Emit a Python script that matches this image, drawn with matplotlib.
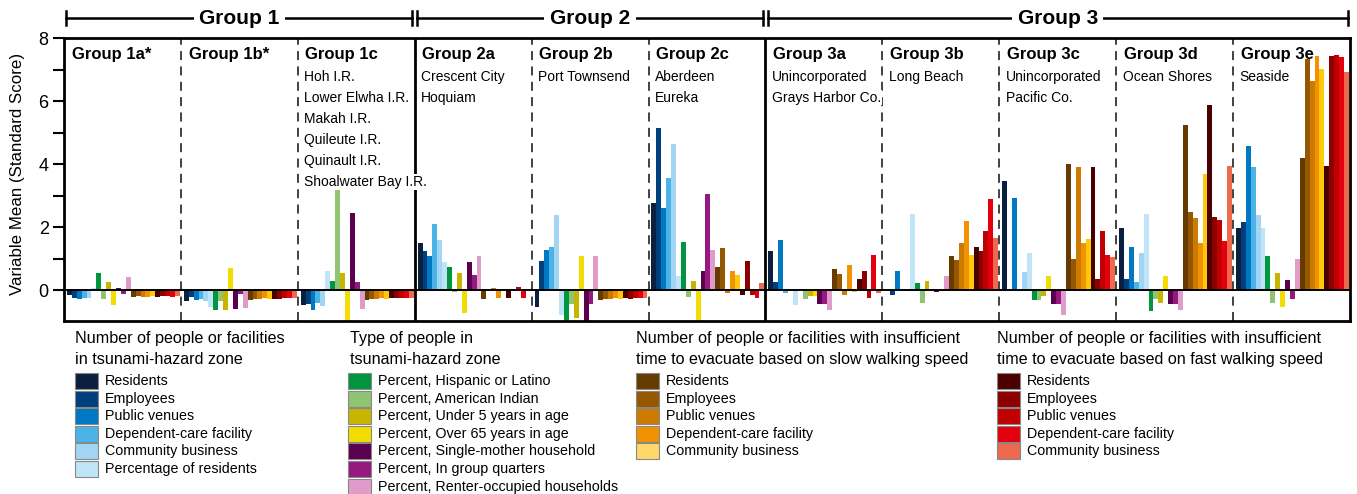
import matplotlib
matplotlib.use("Agg")
import matplotlib.pyplot as plt
from matplotlib.patches import Rectangle
import matplotlib.transforms as mtransforms

plt.rcParams['font.family'] = ['Liberation Sans', 'DejaVu Sans']

# values per panel, 23 variables each (6 hazard-zone counts, 7 population types,
# 5 slow-walk counts, 5 fast-walk counts)
group_1a = [-0.14, -0.24, -0.27, -0.24, -0.24, 0.06, 0.54, -0.27, 0.25, -0.48, 0.07, -0.12, 0.41,
            -0.21, -0.18, -0.21, -0.21, -0.18, -0.21, -0.18, -0.18, -0.21, -0.18]
group_1b = [-0.34, -0.21, -0.31, -0.28, -0.34, -0.53, -0.62, -0.34, -0.62, 0.70, -0.59, -0.12, -0.56,
            -0.31, -0.28, -0.28, -0.24, -0.28, -0.28, -0.28, -0.24, -0.24, -0.24]
group_1c = [-0.47, -0.43, -0.62, -0.40, -0.50, 0.61, 0.30, 3.21, 0.54, -0.97, 2.46, 0.26, -0.59,
            -0.31, -0.28, -0.28, -0.24, -0.28, -0.24, -0.24, -0.24, -0.24, -0.24]
group_2a = [1.50, 1.25, 1.09, 2.11, 1.60, 0.90, 0.74, -0.05, 0.55, -0.72, 0.90, 0.49, 1.09,
            -0.28, 0.0, 0.07, -0.24, 0.0, -0.24, 0.0, 0.10, -0.24, 0.0]
group_2b = [-0.53, 0.92, 1.27, 1.37, 2.38, -0.79, -0.97, -0.43, -0.88, 1.08, -0.97, -0.43, 1.08,
            -0.31, -0.28, -0.28, -0.24, -0.28, -0.24, -0.28, -0.24, -0.24, -0.24]
group_2c = [2.76, 5.14, 2.60, 3.56, 4.63, 0.44, 1.52, -0.21, 0.29, -0.97, 0.60, 3.05, 1.27,
            0.73, 1.33, -0.08, 0.60, 0.48, -0.15, 0.92, -0.15, -0.24, 0.22]
group_3a = [1.24, 0.25, 1.59, -0.08, 0.04, -0.47, 0.04, -0.28, -0.18, -0.18, -0.43, -0.43, -0.62,
            0.67, 0.51, -0.15, 0.79, -0.05, 0.35, 0.60, -0.24, 1.11, -0.08]
group_3b = [0.04, -0.15, 0.60, 0.04, 0.04, 2.42, 0.22, -0.40, 0.29, 0.04, -0.05, 0.04, 0.44,
            1.08, 0.95, 1.49, 2.19, 1.11, 1.37, 1.24, 1.87, 2.89, 1.65]
group_3c = [3.46, 0.0, 2.92, 0.0, 0.57, 1.17, -0.31, -0.31, -0.18, 0.44, -0.43, -0.43, -0.78,
            4.00, 0.98, 3.92, 1.49, 1.62, 3.92, 0.35, 1.87, 1.11, 1.05]
group_3d = [1.97, 0.35, 1.37, 0.25, 1.17, 2.42, -0.66, -0.28, -0.40, 0.44, -0.43, -0.43, -0.62,
            5.24, 2.48, 2.29, 1.49, 3.68, 5.87, 2.32, 2.22, 1.56, 3.94]
group_3e = [1.97, 2.16, 4.57, 3.92, 2.38, 1.97, 1.08, -0.40, 0.54, -0.53, 0.32, -0.28, 0.98,
            4.19, 7.33, 6.63, 7.43, 7.02, 3.94, 7.43, 7.46, 7.40, 6.92]

panels = [group_1a, group_1b, group_1c, group_2a, group_2b, group_2c,
          group_3a, group_3b, group_3c, group_3d, group_3e]
panel_names = ["Group 1a*", "Group 1b*", "Group 1c", "Group 2a", "Group 2b", "Group 2c",
               "Group 3a", "Group 3b", "Group 3c", "Group 3d", "Group 3e"]
panel_places = [[], [],
                ["Hoh I.R.", "Lower Elwha I.R.", "Makah I.R.", "Quileute I.R.", "Quinault I.R.",
                 "Shoalwater Bay I.R."],
                ["Crescent City", "Hoquiam"], ["Port Townsend"], ["Aberdeen", "Eureka"],
                ["Unincorporated", "Grays Harbor Co."], ["Long Beach"],
                ["Unincorporated", "Pacific Co."], ["Ocean Shores"], ["Seaside"]]
top_groups = ["Group 1", "Group 2", "Group 3"]
top_spans = [(0, 3), (3, 6), (6, 11)]

hazard_labels = ["Residents", "Employees", "Public venues", "Dependent-care facility",
                 "Community business", "Percentage of residents"]
type_labels = ["Percent, Hispanic or Latino", "Percent, American Indian",
               "Percent, Under 5 years in age", "Percent, Over 65 years in age",
               "Percent, Single-mother household", "Percent, In group quarters",
               "Percent, Renter-occupied households"]
walk_labels = ["Residents", "Employees", "Public venues", "Dependent-care facility",
               "Community business"]

hazard_colors = ['#0b1f3f', '#003f7d', '#0079c2', '#4cb3e8', '#a1d5f3', '#bfe3f7']
type_colors = ['#00953f', '#90c473', '#c7b500', '#f3dc00', '#5b0050', '#96197f', '#df9cc8']
slow_colors = ['#673a00', '#955800', '#cd7a00', '#f39200', '#ffc80a']
fast_colors = ['#4b0000', '#8c0000', '#c00000', '#e3000f', '#ee6a4e']
colors = hazard_colors + type_colors + slow_colors + fast_colors

W, H = 1357, 494
fig = plt.figure(figsize=(W / 100, H / 100), dpi=100)
ax = fig.add_axes([64 / W, 1 - 321 / H, (1350 - 64) / W, (321 - 38) / H])

bw = 0.042
pad = 0.025
for g, vals in enumerate(panels):
    xs = [g + pad + (i + 0.5) * bw for i in range(len(vals))]
    ax.bar(xs, vals, width=bw, color=colors, linewidth=0, zorder=2)

ax.set_xlim(0, 11)
ax.set_ylim(-0.98, 8)
ax.axhline(0, color='black', lw=1.4, zorder=3)
for b in range(1, 11):
    if b in (3, 6):
        ax.axvline(b, color='black', lw=2, zorder=1)
    else:
        ax.axvline(b, color='#333333', lw=1.3, ls=(0, (5, 3.5)), zorder=1)

ax.set_xticks([])
ax.set_yticks([0, 2, 4, 6, 8])
ax.set_yticks([1, 3, 5, 7], minor=True)
ax.tick_params(axis='y', which='both', direction='out', length=8, width=1.5, labelsize=13, pad=3)
for s in ax.spines.values():
    s.set_linewidth(2)

# panel titles and place names
for g in range(11):
    ax.text(g + 0.065, 7.47, panel_names[g], fontsize=12, fontweight='bold', va='center', ha='left')
    for k, place in enumerate(panel_places[g]):
        ax.text(g + 0.055, 6.77 - k * 0.667, place, fontsize=10, va='center',
                ha='left', zorder=4,
                bbox=dict(facecolor='white', edgecolor='none', pad=0.5))

# top brackets
trans = mtransforms.blended_transform_factory(ax.transData, ax.transAxes)
yb = (321 - 18) / (321 - 38)
tk = 7 / (321 - 38)
for name, (a, b) in zip(top_groups, top_spans):
    x0, x1 = a + 0.02, b - 0.02
    ax.plot([x0, x1], [yb, yb], color='black', lw=1.8, transform=trans, clip_on=False)
    ax.plot([x0, x0], [yb - tk, yb + tk], color='black', lw=1.8, transform=trans, clip_on=False)
    ax.plot([x1, x1], [yb - tk, yb + tk], color='black', lw=1.8, transform=trans, clip_on=False)
    ax.text((a + b) / 2, yb, name, transform=trans, ha='center', va='center', fontsize=15,
            fontweight='bold', bbox=dict(facecolor='white', edgecolor='none', pad=4))

fig.text(18 / W, 1 - 174 / H, "Variable Mean (Standard Score)", rotation=90, ha='center',
         va='center', fontsize=12.2)

# legend blocks
def legend_block(x, title_lines, labels, cols, patch_x=None):
    px = x if patch_x is None else patch_x
    for j, line in enumerate(title_lines):
        fig.text(x / W, 1 - (338 + j * 21) / H, line, fontsize=11.6, ha='left', va='center')
    for k, (lab, c) in enumerate(zip(labels, cols)):
        yc = 381 + k * 17.6
        fig.patches.append(Rectangle((px / W, 1 - (yc + 8) / H), 23 / W, 16 / H, facecolor=c,
                                     edgecolor='#888888', lw=0.8, transform=fig.transFigure))
        fig.text((px + 30) / W, 1 - yc / H, lab, fontsize=10.3, ha='left', va='center')

legend_block(75, ["Number of people or facilities", "in tsunami-hazard zone"],
             hazard_labels, hazard_colors)
legend_block(350, ["Type of people in", "tsunami-hazard zone"], type_labels, type_colors,
             patch_x=348)
legend_block(636, ["Number of people or facilities with insufficient",
                   "time to evacuate based on slow walking speed"],
             walk_labels, slow_colors[:4] + ['#ffd86c'])
legend_block(997, ["Number of people or facilities with insufficient",
                   "time to evacuate based on fast walking speed"],
             walk_labels, fast_colors)

fig.savefig("out.png", dpi=100)
